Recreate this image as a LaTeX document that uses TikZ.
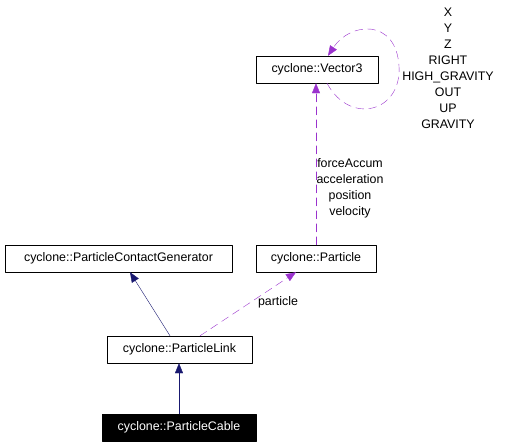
\documentclass[tikz,border=0pt]{standalone}
\usepackage{fontspec}
\setmainfont{Liberation Sans}
\usetikzlibrary{arrows.meta}

\definecolor{edgeblue}{HTML}{191970}
\definecolor{edgepurple}{HTML}{9A32CD}

\begin{document}
\begin{tikzpicture}[x=1pt, y=-1pt, line cap=round, line join=round,
    every node/.style={font=\fontsize{12.4}{16}\selectfont},
    classbox/.style={draw, thin, inner sep=0pt, minimum height=27pt},
    mainbox/.style={classbox, fill=black, text=white},
    inherit/.style={draw=edgeblue, thin, -{Triangle[length=10pt,width=8pt]}, edgeblue},
    usage/.style={draw=edgepurple, thin, dash pattern=on 8pt off 5pt, -{Triangle[length=10pt,width=8pt]}, edgepurple},
    memberlbl/.style={align=center, inner sep=0pt}]
  % Picture frame.
  \useasboundingbox (0,0) rectangle (505,445);

  % Class boxes.
  \node[classbox, minimum width=122pt] (vector) at (317,69.5) {cyclone::Vector3};
  \node[classbox, minimum width=227pt] (contactgen) at (118.5,258.5) {cyclone::ParticleContactGenerator};
  \node[classbox, minimum width=120pt] (particle) at (316,258.5) {cyclone::Particle};
  \node[classbox, minimum width=145pt] (link) at (179.5,349.5) {cyclone::ParticleLink};
  \node[mainbox, minimum width=154pt] (cable) at (179,427.5) {cyclone::ParticleCable};

  % Inheritance.
  \draw[inherit] (cable.north) -- (link.south -| cable.north);
  \draw[inherit] (link.north -| 170,0) -- (contactgen.south -| 130,0);

  % Usage relations.
  \draw[usage] (link.north -| 200,0) -- (particle.south -| 296,0);
  \node[memberlbl] (particlelbl) at (278,302) {particle};
  \draw[usage] (particle.north -| 316,0) -- (vector.south -| 316,0);
  \node[memberlbl] (particlemembers) at (350,188) {forceAccum\\acceleration\\position\\velocity};

  % Self loop on Vector3.
  \coordinate (loopstart) at (vector.south -| 327,0);
  \coordinate (loopend) at (vector.north -| 328,0);
  \draw[usage] (loopstart) .. controls (350,126) and (402,112) .. (399,66)
    .. controls (396,18) and (350,22) .. (loopend);
  \node[memberlbl] (vectormembers) at (448,68) {X\\Y\\Z\\RIGHT\\HIGH\_GRAVITY\\OUT\\UP\\GRAVITY};
\end{tikzpicture}
\end{document}
